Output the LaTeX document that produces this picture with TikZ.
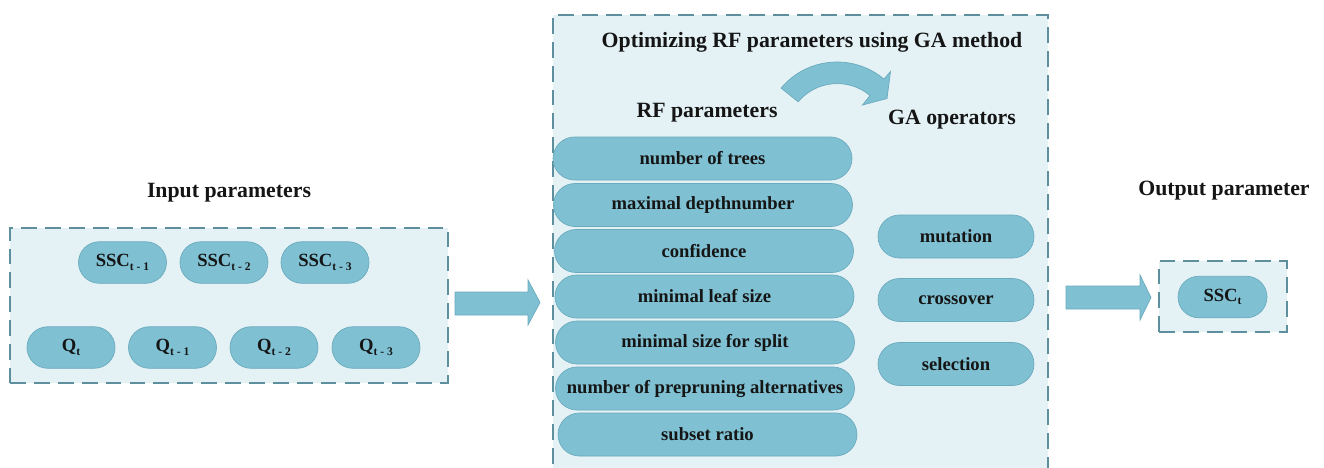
\documentclass[tikz,border=0pt]{standalone}
\usepackage{fontspec}
\setmainfont{Liberation Serif}
\usetikzlibrary{shapes.misc}
\definecolor{pillfill}{HTML}{7FC1D3}
\definecolor{pillline}{HTML}{6AAABD}
\definecolor{boxfill}{HTML}{E4F2F6}
\definecolor{dashline}{HTML}{5E8F9D}
\definecolor{txt}{HTML}{151515}
\newcommand{\mysubscr}[1]{\raisebox{-0.4ex}{\fontsize{6.6}{7}\selectfont #1}}
\begin{document}
\begin{tikzpicture}[x=0.02cm,y=-0.02cm,
  pill/.style={rounded rectangle, fill=pillfill, draw=pillline, line width=0.4pt,
    inner sep=0pt, text=txt},
  inpill/.style={pill, minimum width=1.76cm, minimum height=0.83cm,
    font=\bfseries\fontsize{10.6}{12}\selectfont},
  rfpill/.style={pill, minimum width=5.98cm, minimum height=0.86cm,
    font=\bfseries\fontsize{10.6}{12}\selectfont},
  gapill/.style={pill, minimum width=3.12cm, minimum height=0.86cm,
    font=\bfseries\fontsize{10.6}{12}\selectfont},
  dbox/.style={rectangle, fill=boxfill, draw=dashline, line width=1.4pt,
    dash pattern=on 9pt off 4.6pt, inner sep=0pt},
  ttl/.style={font=\bfseries\fontsize{12.4}{14}\selectfont, text=txt, inner sep=0pt},
  blockarrow/.style={fill=pillfill, draw=pillline, line width=0.4pt}
]
\useasboundingbox (0,0) rectangle (1324,467);
\clip (0,0) rectangle (1324,467);
\fill[white] (0,0) rectangle (1324,467);

% ---------- input block ----------
\node[ttl] (intitle) at (229,193) {Input parameters};
\node[dbox, minimum width=8.76cm, minimum height=3.1cm] (inbox) at (229,305.5) {};
\node[inpill] (ssc1) at (122.5,262.5) {SSC\mysubscr{t - 1}};
\node[inpill] (ssc2) at (224,262.5) {SSC\mysubscr{t - 2}};
\node[inpill] (ssc3) at (325,262.5) {SSC\mysubscr{t - 3}};
\node[inpill] (q0) at (71,347.5) {Q\mysubscr{t}};
\node[inpill] (q1) at (172.5,347.5) {Q\mysubscr{t - 1}};
\node[inpill] (q2) at (274,347.5) {Q\mysubscr{t - 2}};
\node[inpill] (q3) at (376,347.5) {Q\mysubscr{t - 3}};

% ---------- arrow 1 ----------
\draw[blockarrow] (455,292) -- (528,292) -- (528,280) -- (540,302.5)
  -- (528,325) -- (528,315) -- (455,315) -- cycle;

% ---------- central block ----------
\node[dbox, minimum width=9.9cm, minimum height=9.3cm] (cbox) at (800.5,247.5) {};
\node[ttl] (ctitle) at (812,42) {Optimizing RF parameters using GA method};
\node[ttl] (rftitle) at (707,113) {RF parameters};
\node[ttl] (gatitle) at (952,120) {GA operators};

\draw[blockarrow] (837,135) ++(-140:73) arc[start angle=-140, end angle=-50, radius=73]
  -- (890.5,71.5) -- (887,98.5) -- (862.5,105) -- (870,95.5)
  arc[start angle=-50, end angle=-140, radius=51] -- cycle;

\node[rfpill] (rf1) at (702.5,158.5) {number of trees};
\node[rfpill] (rf2) at (703,205) {maximal depthnumber};
\node[rfpill] (rf3) at (704,251) {confidence};
\node[rfpill] (rf4) at (704.5,296.5) {minimal leaf size};
\node[rfpill] (rf5) at (705,342.5) {minimal size for split};
\node[rfpill] (rf6) at (705,388.5) {number of prepruning alternatives};
\node[rfpill] (rf7) at (707.5,434.5) {subset ratio};

\node[gapill] (ga1) at (956,236.5) {mutation};
\node[gapill] (ga2) at (956,300) {crossover};
\node[gapill] (ga3) at (956,364) {selection};

% ---------- arrow 2 ----------
\draw[blockarrow] (1066,286) -- (1140,286) -- (1140,275) -- (1151,297.5)
  -- (1140,320) -- (1140,309) -- (1066,309) -- cycle;

% ---------- output block ----------
\node[ttl] (outtitle) at (1224,191) {Output parameter};
\node[dbox, minimum width=2.56cm, minimum height=1.42cm] (obox) at (1223,296.5) {};
\node[inpill, minimum width=1.78cm] (sscout) at (1222.5,297) {SSC\mysubscr{t}};
\end{tikzpicture}
\end{document}
